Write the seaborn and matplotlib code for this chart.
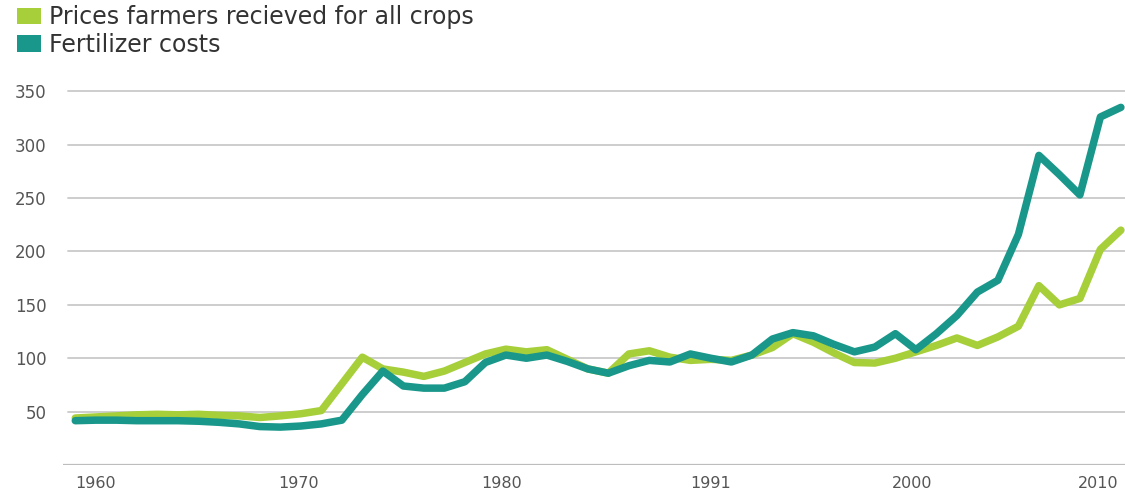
import matplotlib
matplotlib.use("Agg")
import matplotlib.pyplot as plt
from matplotlib.patches import Patch
import seaborn as sns
import pandas as pd

years = list(range(1959, 2011))
crop_prices = [44, 45, 46, 47, 47.5, 47, 47.5, 46.5, 46, 44.5,
               46, 48, 51, 76, 101, 90, 87, 83, 88, 96,
               104, 108.5, 106, 108, 99, 90, 86, 104, 107, 101,
               98, 99, 98, 103, 110, 123, 115, 105, 96, 95.5,
               100, 106, 112, 119, 112, 120, 130, 168, 150, 156,
               202, 220]
fertilizer = [41.5, 42, 42, 41.5, 41.5, 41.5, 41, 40, 38.5, 36,
              35.5, 36.5, 38.5, 42, 66, 88, 74, 72, 72, 78,
              96, 103, 100, 103, 97, 90, 86, 93, 98, 96.5,
              104, 100, 96.5, 103, 118, 124, 121, 113, 106, 110.5,
              123, 108, 123, 140, 162, 173, 216, 290, 272, 253,
              326, 335]
series_names = ["Prices farmers recieved for all crops", "Fertilizer costs"]
y_ticks = [50, 100, 150, 200, 250, 300, 350]
x_tick_pos = [1960, 1969.9, 1979.8, 1990, 1999.8, 2008.9]
x_tick_labels = ["1960", "1970", "1980", "1991", "2000", "2010"]

df = pd.DataFrame({
    "year": years * 2,
    "value": crop_prices + fertilizer,
    "series": [series_names[0]] * len(years) + [series_names[1]] * len(years),
})

GREEN = "#a6cf3a"
TEAL = "#19978a"

sns.set_theme(style="white")
plt.rcParams["font.family"] = ["DejaVu Sans"]

fig = plt.figure(figsize=(11.25, 4.94), dpi=100)
ax = fig.add_axes([0.056, 0.0587, 0.944, 0.778])

for yv in y_ticks:
    ax.axhline(yv, color="#c9c9c9", lw=1.3, zorder=0, xmin=0.005)
ax.axhline(0, color="#bdbdbd", lw=1.6, zorder=0)

sns.lineplot(data=df, x="year", y="value", hue="series",
             palette=[GREEN, TEAL], linewidth=5.4, ax=ax, legend=False,
             sort=False)
for line in ax.lines:
    if len(line.get_xdata()) > 2:
        line.set_solid_capstyle("round")
        line.set_solid_joinstyle("round")

ax.set_xlim(1958.4, 2010.2)
ax.set_ylim(0, 360)
ax.set_yticks(y_ticks)
ax.set_yticklabels([str(v) for v in y_ticks], fontsize=12, color="#555555")
ax.set_xticks(x_tick_pos)
ax.set_xticklabels(x_tick_labels, fontsize=11.5, color="#555555",
                   family=["Liberation Sans Narrow", "DejaVu Sans"])
ax.tick_params(axis="both", length=0)
ax.tick_params(axis="y", pad=12)
ax.tick_params(axis="x", pad=8)
ax.set_xlabel("")
ax.set_ylabel("")
for s in ax.spines.values():
    s.set_visible(False)

handles = [Patch(facecolor=GREEN, edgecolor="none"),
           Patch(facecolor=TEAL, edgecolor="none")]
fig.legend(handles, series_names, loc="upper left",
           bbox_to_anchor=(0.0068, 1.0085), frameon=False, fontsize=17,
           handlelength=1.0, handleheight=0.7, handletextpad=0.35,
           labelspacing=0.15, borderaxespad=0.0, labelcolor="#333333")

fig.savefig("out.png", dpi=100, facecolor="white")
